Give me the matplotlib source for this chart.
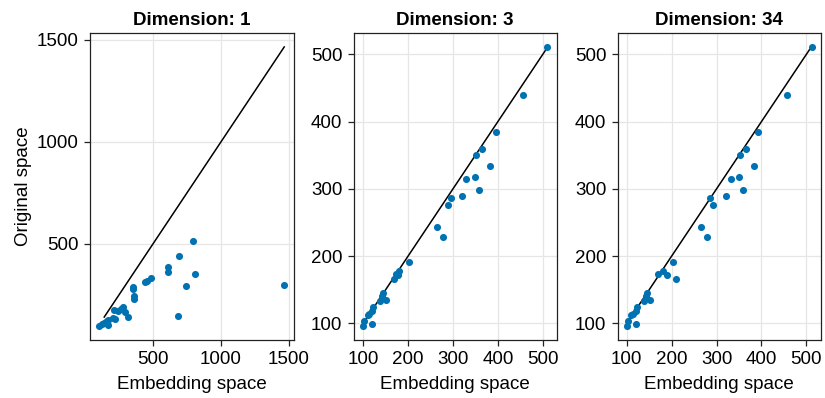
import numpy as np
import matplotlib.pyplot as plt

plt.rcParams['font.family'] = ['Liberation Sans', 'DejaVu Sans']

# distances in the original space (same for every panel)
original = [511, 439, 384, 359, 350, 334, 317, 314, 298, 290,
            286, 276, 243, 229, 191, 178, 172, 173, 166, 145,
            141, 133, 135, 124, 119, 114, 113, 99, 104, 96]

# distances in the embedding space, one list per dimension
embed_d1 = [793, 692, 606, 611, 808, 487, 452, 440, 1465, 744,
            352, 350, 357, 357, 278, 261, 241, 212, 290, 685,
            316, 218, 205, 170, 160, 150, 135, 165, 125, 100]
embed_d3 = [510, 455, 396, 365, 352, 382, 348, 330, 358, 319,
            296, 289, 265, 277, 203, 179, 178, 172, 169, 144,
            142, 137, 150, 122, 120, 114, 110, 119, 102, 99]
embed_d34 = [512, 457, 393, 366, 353, 384, 349, 332, 360, 321,
             286, 291, 266, 278, 204, 180, 190, 170, 209, 146,
             143, 138, 152, 123, 120, 114, 110, 120, 103, 100]

dims = [1, 3, 34]
embeds = [embed_d1, embed_d3, embed_d34]
line_ends = [(140, 1465), (102, 510), (102, 510)]
tick_sets = [[500, 1000, 1500], [100, 200, 300, 400, 500], [100, 200, 300, 400, 500]]

W, H = 825, 398
fig = plt.figure(figsize=(W / 100, H / 100), dpi=100)

# axes boxes in pixels: left, right, top, bottom
boxes = [(89.5, 293.5, 33, 340), (353.5, 556.5, 33, 340), (617.5, 821, 33, 340)]
fs = 13.5

for i in range(3):
    l, r, t, b = boxes[i]
    ax = fig.add_axes([l / W, 1 - b / H, (r - l) / W, (b - t) / H])
    ax.grid(True, color='#e6e6e6', linewidth=0.9)
    ax.set_axisbelow(True)
    lo, hi = line_ends[i]
    ax.plot([lo, hi], [lo, hi], color='black', linewidth=1.1, zorder=2)
    ax.scatter(embeds[i], original, s=26, color='#0072B2', linewidths=0, zorder=3)
    ax.set_xticks(tick_sets[i])
    ax.set_yticks(tick_sets[i])
    ax.margins(0.05)
    ax.tick_params(direction='out', length=4, width=0.9, labelsize=fs, color='#222222', pad=4)
    for sp in ax.spines.values():
        sp.set_linewidth(0.9)
        sp.set_color('#222222')
    ax.set_title('Dimension: ' + str(dims[i]), fontsize=fs, fontweight='bold', pad=6)
    ax.set_xlabel('Embedding space', fontsize=fs, labelpad=6)
    if i == 0:
        ax.set_ylabel('Original space', fontsize=fs, labelpad=3)

fig.savefig('out.png', dpi=100)
